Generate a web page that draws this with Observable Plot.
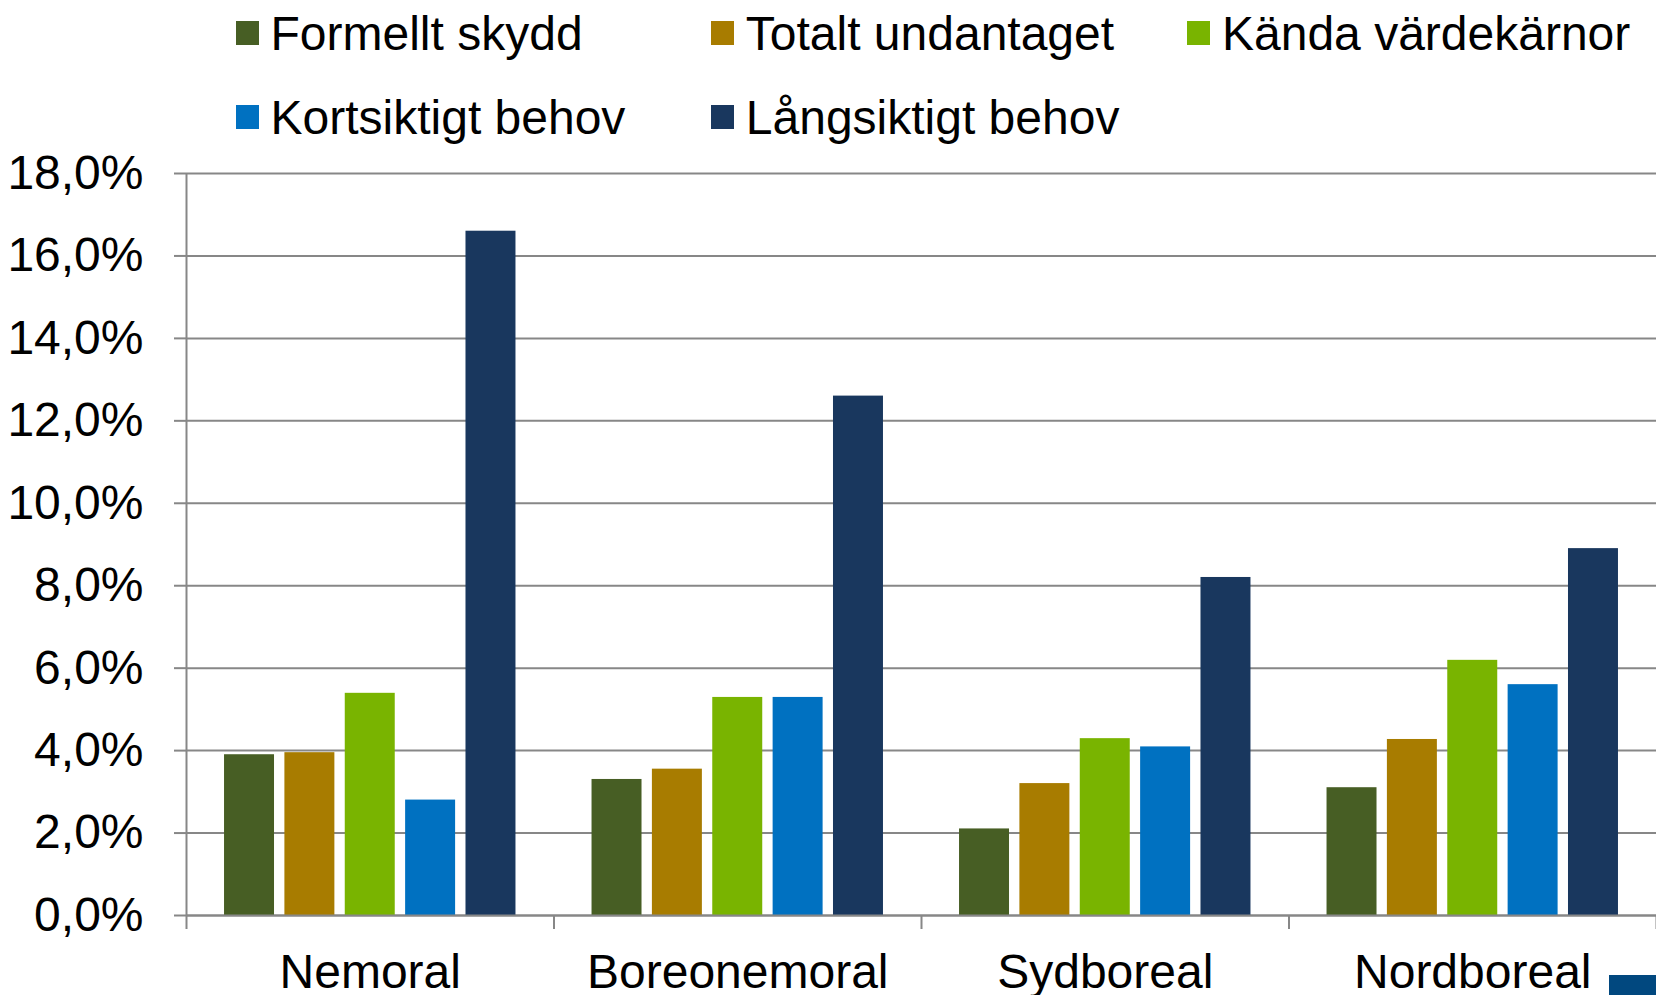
<!DOCTYPE html>
<html>
<head>
<meta charset="utf-8">
<script src="https://cdn.jsdelivr.net/npm/d3@7"></script>
<script src="https://cdn.jsdelivr.net/npm/@observablehq/plot@0.6"></script>
<style>
  html, body { margin: 0; padding: 0; background: #fff; }
  body { width: 1656px; height: 995px; overflow: hidden; position: relative; font-family: "Liberation Sans", Arial, sans-serif; }
  #legend { position: relative; width: 1656px; height: 150px; }
  .item { position: absolute; font-size: 48px; line-height: 48px; color: #000; white-space: nowrap; }
  .sw { position: absolute; width: 23px; height: 24px; }
  #logo { position: absolute; left: 1609px; top: 975px; width: 47px; height: 20px; background: #01487f; }
</style>
</head>
<body>
<div id="legend"></div>
<div id="chart"></div>
<div id="logo"></div>
<script>
// ---- Data ----
const regions = ["Nemoral", "Boreonemoral", "Sydboreal", "Nordboreal"];
const series = ["Formellt skydd", "Totalt undantaget", "Kända värdekärnor", "Kortsiktigt behov", "Långsiktigt behov"];
const colors = ["#475e24", "#a87c00", "#79b400", "#0071c1", "#19375e"];
const formelltSkydd     = [3.9, 3.3, 2.1, 3.1];
const totaltUndantaget  = [3.95, 3.55, 3.2, 4.27];
const kandaVardekarnor  = [5.39, 5.29, 4.29, 6.19];
const kortsiktigtBehov  = [2.8, 5.29, 4.09, 5.6];
const langsiktigtBehov  = [16.6, 12.6, 8.2, 8.9];
const yTicks = [0, 2, 4, 6, 8, 10, 12, 14, 16, 18];

const valuesBySeries = [formelltSkydd, totaltUndantaget, kandaVardekarnor, kortsiktigtBehov, langsiktigtBehov];

// ---- Legend ----
const legend = document.getElementById("legend");
const colX = [235.5, 710.8, 1187];
const rowTop = [10, 94];
const swTop = [21, 105];
series.forEach((s, i) => {
  const col = i % 3, row = Math.floor(i / 3);
  const sw = document.createElement("div");
  sw.className = "sw";
  sw.style.left = colX[col] + "px";
  sw.style.top = swTop[row] + "px";
  sw.style.background = colors[i];
  legend.appendChild(sw);
  const t = document.createElement("div");
  t.className = "item";
  t.style.left = (colX[col] + 35) + "px";
  t.style.top = rowTop[row] + "px";
  t.textContent = s;
  legend.appendChild(t);
});

// ---- Layout within each region band (via a d3 band scale on [0,1]) ----
const inner = d3.scaleBand().domain(series).range([0, 1]).paddingInner(0.172).paddingOuter(0.63);

const rows = [];
regions.forEach((r, i) => {
  series.forEach((s, k) => {
    const x1 = i + inner(s);
    rows.push({region: r, series: s, value: valuesBySeries[k][i], x1, x2: x1 + inner.bandwidth()});
  });
});

const fmt = d => d.toFixed(1).replace(".", ",") + "%";
const gray = "#878787";

const chart = Plot.plot({
  width: 1656,
  height: 845,
  marginLeft: 186,
  marginRight: 0,
  marginTop: 23,
  marginBottom: 80,
  style: {fontFamily: '"Liberation Sans", Arial, sans-serif', fontSize: "48px", color: "#000", background: "transparent", overflow: "visible"},
  x: {domain: [0, regions.length]},
  y: {domain: [0, 18]},
  color: {domain: series, range: colors},
  marks: [
    Plot.gridY(yTicks, {stroke: gray, strokeOpacity: 1, strokeWidth: 2}),
    Plot.rectY(rows, {x1: "x1", x2: "x2", y: "value", fill: "series"}),
    Plot.ruleY([0], {stroke: gray, strokeWidth: 2}),
    Plot.ruleX([0], {stroke: gray, strokeWidth: 2}),
    Plot.axisY(yTicks, {tickSize: 12, tickPadding: 31, tickFormat: fmt, stroke: gray, strokeWidth: 2, label: null}),
    Plot.axisX(d3.range(regions.length + 1), {tickSize: 14, tickFormat: () => "", stroke: gray, strokeWidth: 2, label: null}),
    Plot.axisX(regions.map((_, i) => i + 0.5), {tickSize: 0, tickPadding: 38, tickFormat: d => regions[Math.floor(d)], label: null})
  ]
});
document.getElementById("chart").appendChild(chart);
</script>
</body>
</html>
